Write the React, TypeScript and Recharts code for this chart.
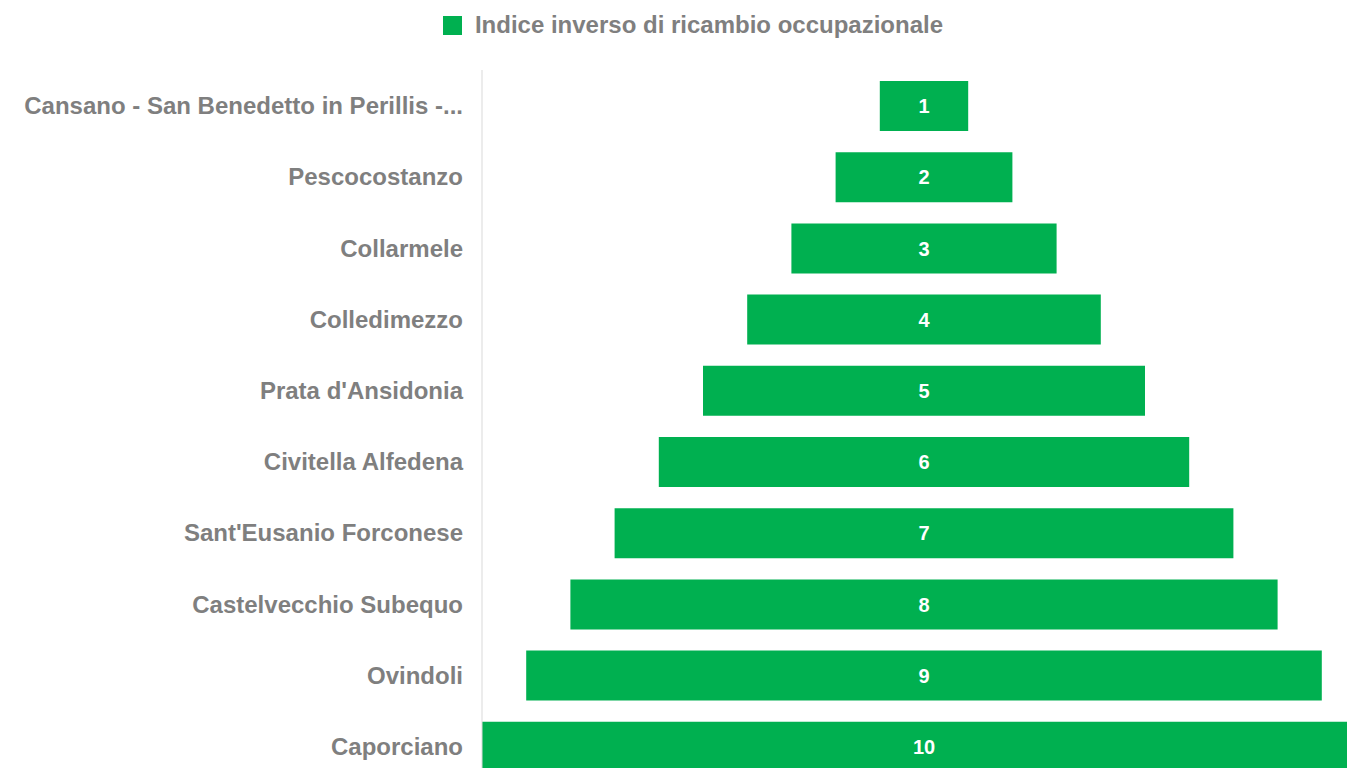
import React from "react";
import { BarChart, Bar, XAxis, YAxis, Legend, LabelList } from "recharts";

const categories = [
  "Cansano - San Benedetto in Perillis -...",
  "Pescocostanzo",
  "Collarmele",
  "Colledimezzo",
  "Prata d'Ansidonia",
  "Civitella Alfedena",
  "Sant'Eusanio Forconese",
  "Castelvecchio Subequo",
  "Ovindoli",
  "Caporciano",
];
const values = [1, 2, 3, 4, 5, 6, 7, 8, 9, 10];
const seriesName = "Indice inverso di ricambio occupazionale";
const maxValue = 10;

const data = categories.map((name, i) => ({
  name,
  pad: (maxValue - values[i]) / 2,
  value: values[i],
}));

const FONT = "'Liberation Sans', Arial, sans-serif";
const GREEN = "#00B050";
const GREY = "#7F7F7F";

const LegendContent = () => (
  <div
    style={{
      display: "flex",
      justifyContent: "center",
      alignItems: "center",
      height: 30,
      fontFamily: FONT,
      fontWeight: "bold",
      fontSize: 24,
      color: GREY,
    }}
  >
    <span style={{ display: "inline-block", width: 19, height: 19, background: GREEN, marginRight: 13 }} />
    <span>{seriesName}</span>
  </div>
);

export default function App() {
  return (
    <div style={{ width: 1347, height: 760, overflow: "hidden", position: "relative" }}>
      <BarChart
        width={1370}
        height={780}
        data={data}
        layout="vertical"
        margin={{ top: 32, right: 12, bottom: 6, left: 0 }}
        barSize={50}
      >
        <Legend verticalAlign="top" align="center" height={30} wrapperStyle={{ top: 2, left: 0, width: 1370 }} content={<LegendContent />} />
        <XAxis type="number" domain={[0, maxValue]} hide />
        <YAxis
          type="category"
          dataKey="name"
          width={474}
          axisLine={{ stroke: "#D9D9D9", strokeWidth: 1 }}
          tickLine={false}
          tickSize={0}
          tickMargin={19}
          interval={0}
          tick={{ fill: GREY, fontFamily: FONT, fontWeight: "bold", fontSize: 24 }}
        />
        <Bar dataKey="pad" stackId="a" fill="transparent" isAnimationActive={false} legendType="none" />
        <Bar dataKey="value" stackId="a" fill={GREEN} name={seriesName} isAnimationActive={false}>
          <LabelList
            dataKey="value"
            position="center"
            fill="#FFFFFF"
            offset={0}
            style={{ fontFamily: FONT, fontWeight: "bold", fontSize: 20 }}
          />
        </Bar>
      </BarChart>
    </div>
  );
}
